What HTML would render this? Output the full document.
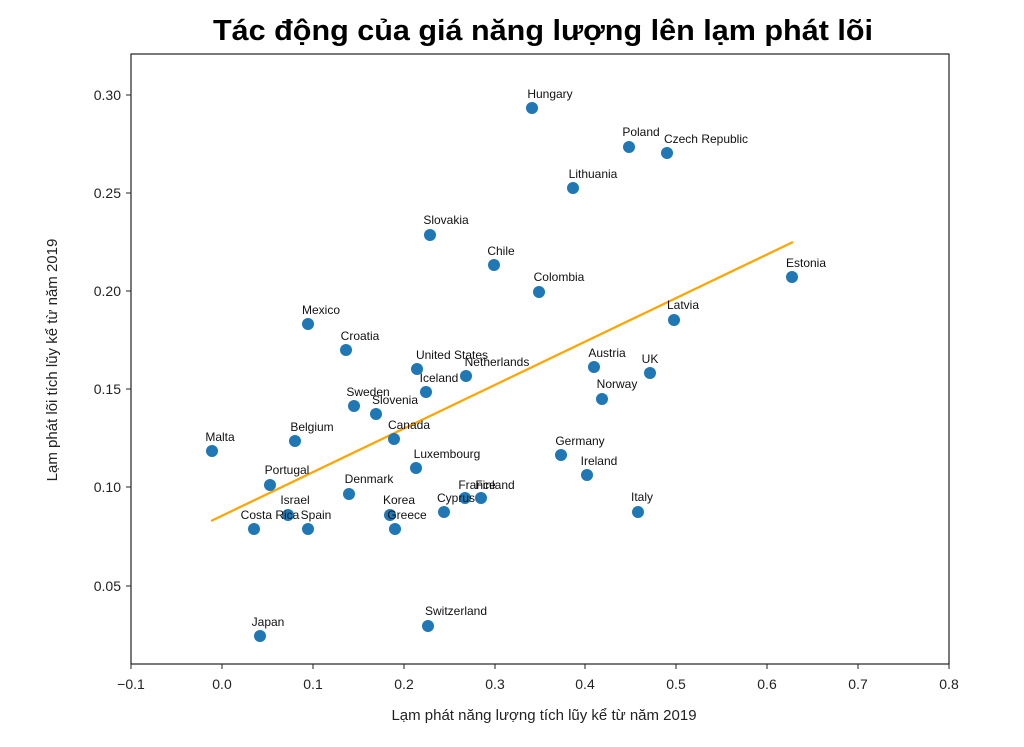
<!DOCTYPE html>
<html><head><meta charset="utf-8"><style>body{margin:0;background:#fff}</style></head><body>
<svg width="1024" height="742" xmlns="http://www.w3.org/2000/svg" font-family="'Liberation Sans','DejaVu Sans',sans-serif">
<text x="543" y="40" text-anchor="middle" font-size="29" font-weight="bold" fill="#000" textLength="660" lengthAdjust="spacingAndGlyphs">Tác động của giá năng lượng lên lạm phát lõi</text>
<rect x="131" y="54" width="818" height="610" fill="none" stroke="#222" stroke-width="1.2"/>
<g stroke="#222" stroke-width="1">
<line x1="131" y1="664" x2="131" y2="669"/><line x1="222" y1="664" x2="222" y2="669"/><line x1="313" y1="664" x2="313" y2="669"/><line x1="404" y1="664" x2="404" y2="669"/><line x1="495" y1="664" x2="495" y2="669"/><line x1="585" y1="664" x2="585" y2="669"/><line x1="676" y1="664" x2="676" y2="669"/><line x1="767" y1="664" x2="767" y2="669"/><line x1="858" y1="664" x2="858" y2="669"/><line x1="949" y1="664" x2="949" y2="669"/>
<line x1="126" y1="95" x2="131" y2="95"/><line x1="126" y1="193" x2="131" y2="193"/><line x1="126" y1="291" x2="131" y2="291"/><line x1="126" y1="389" x2="131" y2="389"/><line x1="126" y1="487" x2="131" y2="487"/><line x1="126" y1="586" x2="131" y2="586"/>
</g>
<g font-size="14" fill="#222" text-anchor="middle">
<text x="131" y="689">−0.1</text><text x="222" y="689">0.0</text><text x="313" y="689">0.1</text><text x="404" y="689">0.2</text><text x="495" y="689">0.3</text><text x="585" y="689">0.4</text><text x="676" y="689">0.5</text><text x="767" y="689">0.6</text><text x="858" y="689">0.7</text><text x="949" y="689">0.8</text>
</g>
<g font-size="14" fill="#222" text-anchor="end">
<text x="121" y="100">0.30</text><text x="121" y="198">0.25</text><text x="121" y="296">0.20</text><text x="121" y="394">0.15</text><text x="121" y="492">0.10</text><text x="121" y="591">0.05</text>
</g>
<text x="544" y="720" text-anchor="middle" font-size="15" fill="#222">Lạm phát năng lượng tích lũy kể từ năm 2019</text>
<text transform="translate(57,360) rotate(-90)" text-anchor="middle" font-size="15" fill="#222">Lạm phát lõi tích lũy kể từ năm 2019</text>
<line x1="211" y1="521" x2="793" y2="242" stroke="#ffa500" stroke-width="2.2"/>
<g fill="#1f77b4">
<circle cx="532" cy="108" r="6"/><circle cx="629" cy="147" r="6"/><circle cx="667" cy="153" r="6"/><circle cx="573" cy="188" r="6"/><circle cx="430" cy="235" r="6"/><circle cx="494" cy="265" r="6"/><circle cx="539" cy="292" r="6"/><circle cx="792" cy="277" r="6"/><circle cx="674" cy="320" r="6"/><circle cx="308" cy="324" r="6"/><circle cx="346" cy="350" r="6"/><circle cx="417" cy="369" r="6"/><circle cx="466" cy="376" r="6"/><circle cx="426" cy="392" r="6"/><circle cx="594" cy="367" r="6"/><circle cx="650" cy="373" r="6"/><circle cx="602" cy="399" r="6"/><circle cx="354" cy="406" r="6"/><circle cx="376" cy="414" r="6"/><circle cx="394" cy="439" r="6"/><circle cx="295" cy="441" r="6"/><circle cx="212" cy="451" r="6"/><circle cx="561" cy="455" r="6"/><circle cx="587" cy="475" r="6"/><circle cx="416" cy="468" r="6"/><circle cx="270" cy="485" r="6"/><circle cx="349" cy="494" r="6"/><circle cx="465" cy="498" r="6"/><circle cx="481" cy="498" r="6"/><circle cx="444" cy="512" r="6"/><circle cx="638" cy="512" r="6"/><circle cx="288" cy="515" r="6"/><circle cx="390" cy="515" r="6"/><circle cx="254" cy="529" r="6"/><circle cx="308" cy="529" r="6"/><circle cx="395" cy="529" r="6"/><circle cx="260" cy="636" r="6"/><circle cx="428" cy="626" r="6"/>
</g>
<g font-size="12" fill="#111" text-anchor="middle">
<text x="550" y="98">Hungary</text><text x="641" y="136">Poland</text><text x="706" y="143">Czech Republic</text><text x="593" y="178">Lithuania</text><text x="446" y="224">Slovakia</text><text x="501" y="255">Chile</text><text x="559" y="281">Colombia</text><text x="806" y="267">Estonia</text><text x="683" y="309">Latvia</text><text x="321" y="314">Mexico</text><text x="360" y="340">Croatia</text><text x="452" y="359">United States</text><text x="497" y="366">Netherlands</text><text x="439" y="382">Iceland</text><text x="607" y="357">Austria</text><text x="650" y="363">UK</text><text x="617" y="388">Norway</text><text x="368" y="396">Sweden</text><text x="395" y="404">Slovenia</text><text x="409" y="429">Canada</text><text x="312" y="431">Belgium</text><text x="220" y="441">Malta</text><text x="580" y="445">Germany</text><text x="599" y="465">Ireland</text><text x="447" y="458">Luxembourg</text><text x="287" y="474">Portugal</text><text x="369" y="483">Denmark</text><text x="477" y="489">France</text><text x="495" y="489">Finland</text><text x="456" y="502">Cyprus</text><text x="642" y="501">Italy</text><text x="295" y="504">Israel</text><text x="399" y="504">Korea</text><text x="270" y="519">Costa Rica</text><text x="316" y="519">Spain</text><text x="407" y="519">Greece</text><text x="268" y="626">Japan</text><text x="456" y="615">Switzerland</text>
</g>
</svg>
</body></html>
